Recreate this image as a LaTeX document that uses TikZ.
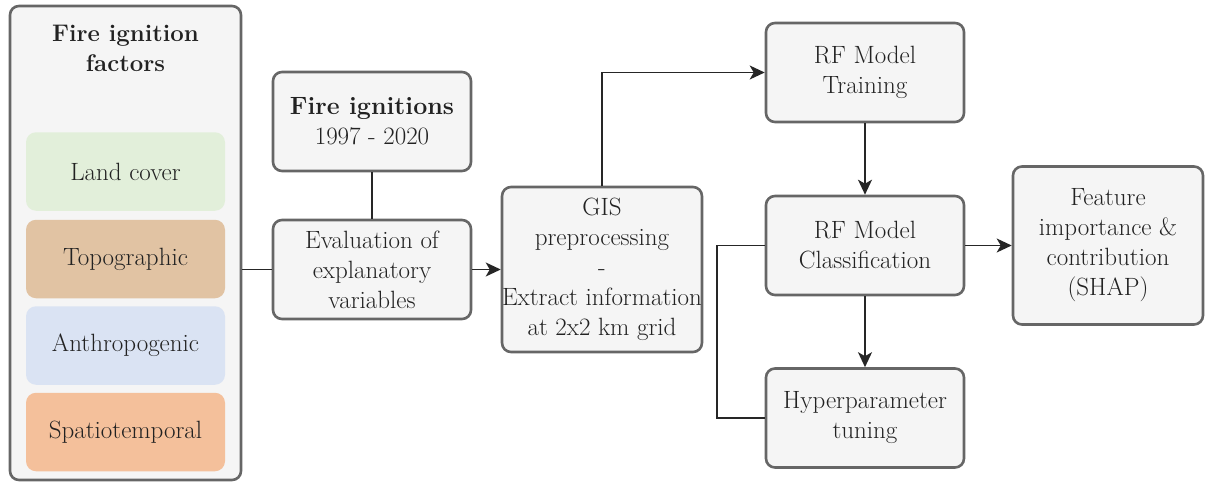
\documentclass[tikz,border=0pt]{standalone}
\usepackage{fontspec}
\usetikzlibrary{arrows.meta}
\definecolor{boxfill}{HTML}{F5F5F5}
\definecolor{boxline}{HTML}{666666}
\definecolor{txt}{HTML}{222222}
\definecolor{cland}{HTML}{E2EFDA}
\definecolor{ctopo}{HTML}{E1C3A3}
\definecolor{canth}{HTML}{DAE3F3}
\definecolor{cspat}{HTML}{F4C09B}
\tikzset{
  box/.style={draw=boxline, line width=2.6pt, fill=boxfill, rounded corners=9pt,
    align=center, text=txt, inner sep=0pt, font=\fontsize{25}{30}\selectfont},
  factor/.style={fill=#1, rounded corners=10pt, minimum width=199pt, minimum height=78.5pt,
    align=center, text=txt, inner sep=0pt, font=\fontsize{25}{30}\selectfont},
  conn/.style={line width=1.8pt, black!85},
  arr/.style={conn, -{Stealth[length=15pt,width=14pt,inset=4pt]}},
}
\begin{document}
\begin{tikzpicture}[x=1pt,y=-1pt]
\useasboundingbox (0,0) rectangle (1205,482);
% left group
\node[box, minimum width=231pt, minimum height=474pt] (outer) at (125.5,243) {};
\node[text=txt, align=center, font=\fontsize{24}{30}\selectfont\bfseries] (title) at (125.5,48) {Fire ignition\\factors};
\node[factor=cland] (land) at (125.5,171.5) {Land cover};
\node[factor=ctopo] (topo) at (125.5,259) {Topographic};
\node[factor=canth] (anth) at (125.5,345.5) {Anthropogenic};
\node[factor=cspat] (spat) at (125.5,432) {Spatiotemporal};
% middle
\node[box, minimum width=198pt, minimum height=99pt] (fire) at (372,121.5) {\textbf{Fire ignitions}\\1997 - 2020};
\node[box, minimum width=198pt, minimum height=99pt] (eval) at (372,269.5) {Evaluation of\\explanatory\\variables};
\node[box, minimum width=198pt, minimum height=165pt] (gis) at (602,269.5) {GIS\\preprocessing\\-\\Extract information\\at 2x2 km grid};
% right
\node[box, minimum width=198pt, minimum height=99pt] (train) at (865,72.5) {RF Model\\Training};
\node[box, minimum width=198pt, minimum height=99pt] (class) at (865,245.5) {RF Model\\Classification};
\node[box, minimum width=198pt, minimum height=99pt] (hyper) at (865,418) {Hyperparameter\\tuning};
\node[box, minimum width=190pt, minimum height=158pt] (feat) at (1108,245.5) {Feature\\importance \&\\contribution\\(SHAP)};
\coordinate (lp) at (717,0);
% connectors
\draw[conn] (eval.west) -- (eval.west -| outer.east);
\draw[conn] (fire.south) -- (eval.north);
\draw[arr] (eval.east) -- (gis.west);
\draw[arr] (gis.north) |- (train.west);
\draw[arr] (train.south) -- (class.north);
\draw[arr] (class.south) -- (hyper.north);
\draw[arr] (class.east) -- (feat.west);
\draw[conn] (class.west) -- (class.west -| lp) |- (hyper.west);
\end{tikzpicture}
\end{document}
